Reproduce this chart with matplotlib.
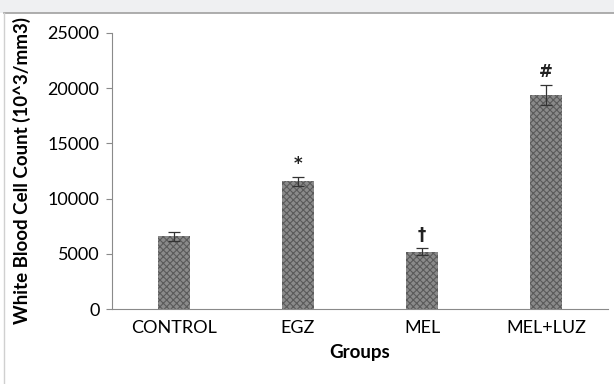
import matplotlib
matplotlib.use("Agg")
import matplotlib.pyplot as plt
from matplotlib.patches import Rectangle
from matplotlib.lines import Line2D

plt.rcParams['font.family'] = ['Lato', 'DejaVu Sans']
plt.rcParams['hatch.linewidth'] = 0.8

groups = ["CONTROL", "EGZ", "MEL", "MEL+LUZ"]
wbc = [6600, 11550, 5200, 19400]
err = [400, 400, 300, 900]
marks = ["", "*", "\u2020", "#"]
yticks = [0, 5000, 10000, 15000, 20000, 25000]

fig = plt.figure(figsize=(6.14, 3.84), dpi=100)

# grey band and frame like the page it was cut from
fig.patches.append(Rectangle((0, 1 - 13/384), 1, 13/384, transform=fig.transFigure,
                             facecolor="#eff0f2", edgecolor="none", zorder=0))
fig.lines.append(Line2D([4/614, 1], [1 - 13/384, 1 - 13/384], transform=fig.transFigure,
                        color="#a0a0a0", lw=1.2))
fig.lines.append(Line2D([4/614, 4/614], [0, 1 - 13/384], transform=fig.transFigure,
                        color="#d0d0d0", lw=1.0))

ax = fig.add_axes([112/614, 1 - 309/384, 496/614, 276/384])
x = range(len(groups))
ax.bar(x, wbc, width=0.26, color="#8a8a8a", edgecolor="#5a5a5a", hatch="xxxxx", lw=0)
ax.errorbar(x, wbc, yerr=err, fmt="none", ecolor="#333333", elinewidth=0.9, capsize=4, capthick=0.9)
for i in x:
    if marks[i]:
        ax.text(i, wbc[i] + err[i] + 350, marks[i], ha="center", va="bottom",
                fontsize=12, fontweight="bold", color="#222222", family="DejaVu Sans")

ax.set_xlim(-0.5, 3.5)
ax.set_ylim(0, 25000)
ax.set_yticks(yticks)
ax.set_xticks(list(x))
ax.set_xticklabels(groups, fontsize=13)
ax.tick_params(axis="y", labelsize=13, length=4, color="#8a8a8a", pad=5)
ax.tick_params(axis="x", length=0, pad=8)
for s in ["top", "right"]:
    ax.spines[s].set_visible(False)
ax.spines["left"].set_color("#8a8a8a")
ax.spines["bottom"].set_color("#8a8a8a")
ax.set_xlabel("Groups", fontsize=13.5, fontweight="bold", labelpad=6)
ax.set_ylabel("White Blood Cell Count (10^3/mm3)", fontsize=13.5, fontweight="bold", labelpad=12)

fig.savefig("out.png", dpi=100)
